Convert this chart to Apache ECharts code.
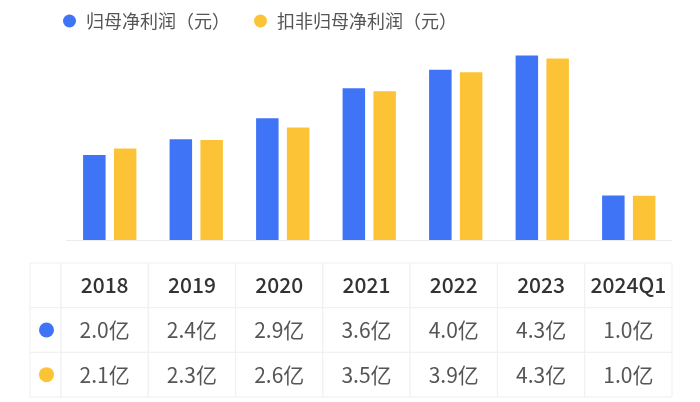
<!DOCTYPE html>
<html>
<head>
<meta charset="utf-8">
<script src="https://cdn.jsdelivr.net/npm/echarts@6/dist/echarts.min.js"></script>
<style>html,body{margin:0;padding:0;background:#fff;}#chart{width:700px;height:402px;}</style>
</head>
<body>
<div id="chart"></div>
<script>
var categories = ['2018', '2019', '2020', '2021', '2022', '2023', '2024Q1'];
var netProfit = [1.98, 2.35, 2.84, 3.54, 3.97, 4.30, 1.04];
var deductedProfit = [2.13, 2.33, 2.62, 3.47, 3.91, 4.23, 1.03];
var netProfitLabels = ['2.0亿', '2.4亿', '2.9亿', '3.6亿', '4.0亿', '4.3亿', '1.0亿'];
var deductedProfitLabels = ['2.1亿', '2.3亿', '2.6亿', '3.5亿', '3.9亿', '4.3亿', '1.0亿'];
var seriesNames = ['归母净利润（元）', '扣非归母净利润（元）'];
var tableRows = ['header', 'net', 'deducted'];

var BLUE = '#4074F6';
var YELLOW = '#FDC336';
var FONT = '"Noto Sans CJK SC", "Noto Sans", sans-serif';
var LINE = '#efefef';

var tableCells = [];
categories.forEach(function (c, i) { tableCells.push({col: i, row: 0, text: c, header: true}); });
netProfitLabels.forEach(function (t, i) { tableCells.push({col: i, row: 1, text: t}); });
deductedProfitLabels.forEach(function (t, i) { tableCells.push({col: i, row: 2, text: t}); });
var iconCells = [{row: 0, color: null}, {row: 1, color: BLUE}, {row: 2, color: YELLOW}];

function cellRect(c, s) {
  return {type: 'rect', shape: {x: c[0] - s[0] / 2, y: c[1] - s[1] / 2, width: s[0], height: s[1]},
    style: {fill: '#fff', stroke: LINE, lineWidth: 1}};
}

var chart = echarts.init(document.getElementById('chart'));
chart.setOption({
  animation: false,
  backgroundColor: '#fff',
  legend: {
    data: seriesNames,
    left: 58, top: 7,
    icon: 'circle', itemWidth: 13, itemHeight: 13, itemGap: 24,
    textStyle: {fontSize: 18, color: '#555', fontFamily: FONT, padding: [0, 0, 0, 5]}
  },
  grid: [
    {left: 66.5, right: 28, top: 25.5, bottom: 162},
    {left: 30, width: 31, top: 263, bottom: 5},
    {left: 61, right: 28, top: 263, bottom: 5}
  ],
  xAxis: [
    {type: 'category', gridIndex: 0, data: categories, axisLine: {lineStyle: {color: '#ececec', width: 1}},
      axisTick: {show: false}, axisLabel: {show: false}},
    {type: 'category', gridIndex: 1, data: ['icon'], show: false},
    {type: 'category', gridIndex: 2, data: categories, show: false}
  ],
  yAxis: [
    {type: 'value', gridIndex: 0, min: 0, max: 5, show: false, splitLine: {show: false}},
    {type: 'category', gridIndex: 1, data: tableRows, inverse: true, show: false},
    {type: 'category', gridIndex: 2, data: tableRows, inverse: true, show: false}
  ],
  series: [
    {name: seriesNames[0], type: 'bar', xAxisIndex: 0, yAxisIndex: 0, data: netProfit,
      barWidth: 22.5, barGap: '37%', itemStyle: {color: BLUE}},
    {name: seriesNames[1], type: 'bar', xAxisIndex: 0, yAxisIndex: 0, data: deductedProfit,
      barWidth: 22.5, barGap: '37%', itemStyle: {color: YELLOW}},
    {type: 'custom', xAxisIndex: 1, yAxisIndex: 1, silent: true,
      data: iconCells.map(function (d) { return [0, d.row]; }),
      renderItem: function (params, api) {
        var d = iconCells[params.dataIndex];
        var c = api.coord([api.value(0), api.value(1)]);
        var s = api.size([1, 1]);
        var children = [cellRect(c, s)];
        if (d.color) {
          children.push({type: 'circle', shape: {cx: c[0] + 1, cy: c[1], r: 7.5}, style: {fill: d.color}});
        }
        return {type: 'group', children: children};
      }
    },
    {type: 'custom', xAxisIndex: 2, yAxisIndex: 2, silent: true,
      data: tableCells.map(function (d) { return [d.col, d.row]; }),
      renderItem: function (params, api) {
        var d = tableCells[params.dataIndex];
        var c = api.coord([api.value(0), api.value(1)]);
        var s = api.size([1, 1]);
        return {type: 'group', children: [
          cellRect(c, s),
          {type: 'text', style: {text: d.text, x: c[0], y: c[1], align: 'center', verticalAlign: 'middle',
            fontSize: 21, fontWeight: d.header ? 500 : 400, fontFamily: FONT, fill: d.header ? '#333' : '#555'}}
        ]};
      }
    }
  ]
});
</script>
</body>
</html>
